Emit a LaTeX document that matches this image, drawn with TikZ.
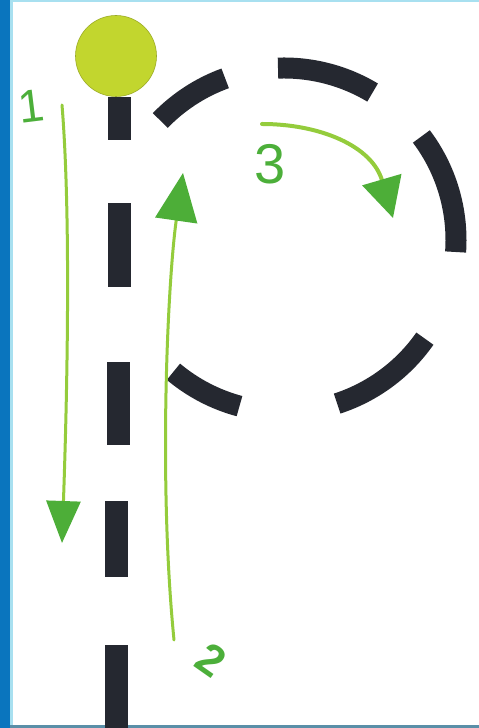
\documentclass[tikz,border=0pt]{standalone}
\usepackage{fontspec}
\setmainfont{Liberation Sans}
\usetikzlibrary{arrows.meta}
\definecolor{road}{HTML}{252830}
\definecolor{ballc}{HTML}{C2D62E}
\definecolor{linegreen}{HTML}{94CC3C}
\definecolor{headgreen}{HTML}{4DAE38}
\definecolor{labelgreen}{HTML}{4CAF3A}
\definecolor{barblue}{HTML}{0A75BE}
\definecolor{lightcyan}{HTML}{A8E0F0}
\definecolor{bottomline}{HTML}{5A8FA8}
\tikzset{
  roadline/.style={line width=21pt, draw=road, line cap=butt},
  roaddash/.style={fill=road, draw=none, minimum width=23pt, inner sep=0pt, outer sep=0pt},
  ballnode/.style={circle, fill=ballc, draw=ballc!80!black, line width=0.6pt, minimum size=81pt, inner sep=0pt},
  pathline/.style={draw=linegreen, line width=3pt, line cap=round},
  digit/.style={text=labelgreen, inner sep=0pt, font=\fontsize{46}{50}\selectfont}
}
\begin{document}
\begin{tikzpicture}[x=1pt,y=1pt]
\useasboundingbox (0,0) rectangle (479,728);
\fill[white] (0,0) rectangle (479,728);
% frame
\fill[barblue] (0,0) rectangle (10,728);
\fill[lightcyan] (10,0) rectangle (13,728);
\fill[lightcyan] (10,726) rectangle (479,728);
\fill[bottomline] (10,0) rectangle (479,3);
% road dashes
\node[roaddash, minimum height=43pt] (d1) at (119.5,609.5) {};
\node[roaddash, minimum height=84pt] (d2) at (119,483) {};
\node[roaddash, minimum height=83pt] (d3) at (118.5,324.5) {};
\node[roaddash, minimum height=76pt] (d4) at (116.5,189) {};
\node[roaddash, minimum height=83pt] (d5) at (116.5,41.5) {};
% ball
\node[ballnode] (ball) at (116,672) {};
% roundabout
\coordinate (c) at (284,488);
\draw[roadline] (c) ++(136:172) arc[start angle=136, end angle=110, radius=172];
\draw[roadline] (c) ++(92:172) arc[start angle=92, end angle=59, radius=172];
\draw[roadline] (c) ++(37:172) arc[start angle=37, end angle=-4, radius=172];
\draw[roadline] (c) ++(-35:172) arc[start angle=-35, end angle=-72, radius=172];
\draw[roadline] (c) ++(-105:172) arc[start angle=-105, end angle=-130, radius=172];
% arrow 1
\coordinate (a1s) at (62,623);
\coordinate (a1e) at (62,185);
\draw[pathline, -{Triangle[width=34pt,length=42pt,color=headgreen]}]
  (a1s) .. controls (72,500) and (66,300) .. (a1e);
% arrow 2
\coordinate (a2s) at (174,88);
\coordinate (a2e) at (183,555);
\draw[pathline, -{Triangle[width=42pt,length=48pt,color=headgreen]}]
  (a2s) .. controls (158,250) and (168,450) .. (a2e);
% arrow 3
\coordinate (a3s) at (262,604);
\coordinate (a3e) at (393,510);
\draw[pathline, line width=4pt, -{Triangle[width=40pt,length=40pt,color=headgreen]}]
  (a3s) .. controls (320,604) and (372,582) .. (a3e);
% labels
\node[digit, rotate=7] (l1) at (31,622) {1};
\node[digit, font=\bfseries\fontsize{44}{48}\selectfont, rotate=-35] (l2) at (211,68) {2};
\node[digit, font=\fontsize{56}{60}\selectfont] (l3) at (270,564) {3};
\end{tikzpicture}
\end{document}
